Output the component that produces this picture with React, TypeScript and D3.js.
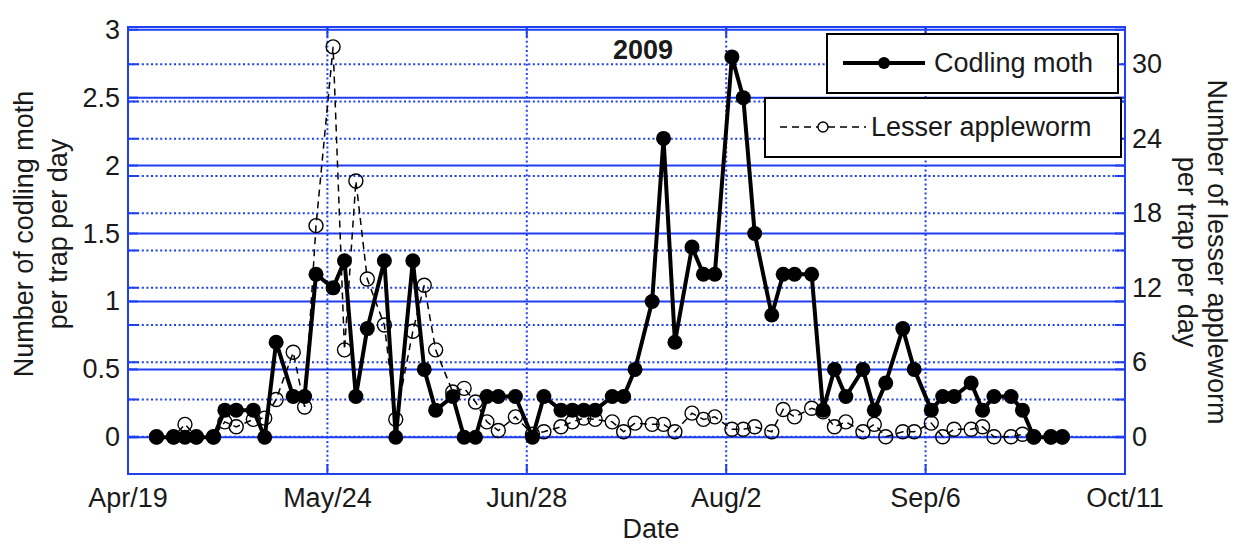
import React, { useEffect, useRef } from "react";
import * as d3 from "d3";

// trap check dates, 2009
const trapDates = [
  "4/24", "4/27", "4/29", "5/1", "5/4", "5/6", "5/8", "5/11", "5/13", "5/15",
  "5/18", "5/20", "5/22", "5/25", "5/27", "5/29", "5/31", "6/3", "6/5", "6/8",
  "6/10", "6/12", "6/15", "6/17", "6/19", "6/21", "6/23", "6/26", "6/29", "7/1",
  "7/4", "7/6", "7/8", "7/10", "7/13", "7/15", "7/17", "7/20", "7/22", "7/24",
  "7/27", "7/29", "7/31", "8/3", "8/5", "8/7", "8/10", "8/12", "8/14", "8/17",
  "8/19", "8/21", "8/23", "8/26", "8/28", "8/30", "9/2", "9/4", "9/7", "9/9",
  "9/11", "9/14", "9/16", "9/18", "9/21", "9/23", "9/25", "9/28", "9/30"
];

// left axis
const codlingMoth = [
  0, 0, 0, 0, 0, 0.2, 0.2, 0.2, 0, 0.7,
  0.3, 0.3, 1.2, 1.1, 1.3, 0.3, 0.8, 1.3, 0, 1.3,
  0.5, 0.2, 0.3, 0, 0, 0.3, 0.3, 0.3, 0, 0.3,
  0.2, 0.2, 0.2, 0.2, 0.3, 0.3, 0.5, 1.0, 2.2, 0.7,
  1.4, 1.2, 1.2, 2.8, 2.5, 1.5, 0.9, 1.2, 1.2, 1.2,
  0.2, 0.5, 0.3, 0.5, 0.2, 0.4, 0.8, 0.5, 0.2, 0.3,
  0.3, 0.4, 0.2, 0.3, 0.3, 0.2, 0, 0, 0
];

// right axis
const lesserAppleworm = [
  0, 0, 1.0, 0, 0, 1.2, 0.8, 1.4, 1.5, 3.0,
  6.8, 2.4, 17, 31.4, 7, 20.6, 12.7, 9, 1.4, 8.5,
  12.2, 7, 3.6, 3.9, 2.8, 1.2, 0.5, 1.6, 0.2, 0.4,
  0.8, 1.2, 1.5, 1.4, 1.2, 0.4, 1.1, 1.0, 1.0, 0.4,
  1.9, 1.4, 1.6, 0.6, 0.6, 0.8, 0.4, 2.2, 1.6, 2.3,
  2.0, 0.8, 1.2, 0.4, 1.0, 0, 0.4, 0.4, 1.1, 0,
  0.6, 0.6, 0.8, 0, 0, 0.2, 0, 0, 0
];

const dateTicks = ["4/19", "5/24", "6/28", "8/2", "9/6", "10/11"];
const leftTicks = [0, 0.5, 1, 1.5, 2, 2.5, 3];
const rightTicks = [0, 6, 12, 18, 24, 30];

const W = 1236, H = 545;
const left = 128, right = 1125, top = 27, bottom = 474;
const BLUE = "#1f3ff2";
const FONT = "'Liberation Sans', Arial, sans-serif";

const parse = d3.utcParse("%m/%d/%Y");
const toDate = (s: string) => parse(s + "/2009") as Date;

function App() {
  const ref = useRef<SVGSVGElement>(null);

  useEffect(() => {
    const svg = d3.select(ref.current);
    svg.selectAll("*").remove();

    const x = d3
      .scaleUtc()
      .domain([toDate(dateTicks[0]), toDate(dateTicks[dateTicks.length - 1])])
      .range([left, right]);
    const yL = d3.scaleLinear().domain([-0.27, 3.02]).range([bottom, top]);
    const yR = d3.scaleLinear().domain([-3, 33]).range([bottom, top]);
    const rightGrid = d3.range(0, 31, 3);
    const fmt = d3.utcFormat("%b/%-d");

    const g = svg.append("g");

    // grid: left axis solid, right axis dotted, dates dotted
    g.selectAll(".gl")
      .data(leftTicks)
      .join("line")
      .attr("x1", left).attr("x2", right)
      .attr("y1", d => yL(d)).attr("y2", d => yL(d))
      .attr("stroke", BLUE).attr("stroke-width", 2);
    g.selectAll(".gr")
      .data(rightGrid)
      .join("line")
      .attr("x1", left).attr("x2", right)
      .attr("y1", d => yR(d)).attr("y2", d => yR(d))
      .attr("stroke", BLUE).attr("stroke-width", 2)
      .attr("stroke-dasharray", "2,2.6");
    g.selectAll(".gx")
      .data(dateTicks.slice(1, -1))
      .join("line")
      .attr("x1", d => x(toDate(d))).attr("x2", d => x(toDate(d)))
      .attr("y1", top).attr("y2", bottom)
      .attr("stroke", BLUE).attr("stroke-width", 2)
      .attr("stroke-dasharray", "2,2.6");

    // inward ticks
    const tl = 10;
    const ticks = g.append("g").attr("stroke", BLUE).attr("stroke-width", 2);
    dateTicks.forEach(d => {
      const xx = x(toDate(d));
      ticks.append("line").attr("x1", xx).attr("x2", xx).attr("y1", bottom).attr("y2", bottom - tl);
      ticks.append("line").attr("x1", xx).attr("x2", xx).attr("y1", top).attr("y2", top + tl);
    });
    leftTicks.forEach(v => {
      ticks.append("line").attr("x1", left).attr("x2", left + tl).attr("y1", yL(v)).attr("y2", yL(v));
      ticks.append("line").attr("x1", right).attr("x2", right - tl).attr("y1", yL(v)).attr("y2", yL(v));
    });
    rightGrid.forEach(v => {
      ticks.append("line").attr("x1", left).attr("x2", left + tl).attr("y1", yR(v)).attr("y2", yR(v));
      ticks.append("line").attr("x1", right).attr("x2", right - tl).attr("y1", yR(v)).attr("y2", yR(v));
    });

    g.append("rect")
      .attr("x", left).attr("y", top)
      .attr("width", right - left).attr("height", bottom - top)
      .attr("fill", "none").attr("stroke", BLUE).attr("stroke-width", 2);

    // codling moth
    const cm = trapDates.map((d, i) => [x(toDate(d)), yL(codlingMoth[i])] as [number, number]);
    g.append("path")
      .attr("d", d3.line()(cm))
      .attr("fill", "none").attr("stroke", "#000")
      .attr("stroke-width", 4).attr("stroke-linejoin", "round");
    g.selectAll(".cm")
      .data(cm)
      .join("circle")
      .attr("cx", d => d[0]).attr("cy", d => d[1]).attr("r", 7.5)
      .attr("fill", "#000");

    // lesser appleworm
    const la = trapDates.map((d, i) => [x(toDate(d)), yR(lesserAppleworm[i])] as [number, number]);
    g.append("path")
      .attr("d", d3.line()(la))
      .attr("fill", "none").attr("stroke", "#000")
      .attr("stroke-width", 1.5).attr("stroke-dasharray", "7,5");
    g.selectAll(".la")
      .data(la)
      .join("circle")
      .attr("cx", d => d[0]).attr("cy", d => d[1]).attr("r", 7)
      .attr("fill", "none").attr("stroke", "#000").attr("stroke-width", 1.4);

    // tick labels
    const txt = svg.append("g").attr("font-family", FONT).attr("font-size", 27).attr("fill", "#1a1a1a");
    txt.selectAll(".tl")
      .data(leftTicks)
      .join("text")
      .attr("x", left - 8).attr("y", d => yL(d))
      .attr("text-anchor", "end").attr("dominant-baseline", "central")
      .text(d => String(d));
    txt.selectAll(".tr")
      .data(rightTicks)
      .join("text")
      .attr("x", right + 7).attr("y", d => yR(d))
      .attr("dominant-baseline", "central")
      .text(d => String(d));
    txt.selectAll(".tx")
      .data(dateTicks)
      .join("text")
      .attr("x", d => x(toDate(d))).attr("y", 498)
      .attr("text-anchor", "middle").attr("dominant-baseline", "central")
      .text(d => fmt(toDate(d)));

    txt.append("text")
      .attr("x", 651).attr("y", 529)
      .attr("text-anchor", "middle").attr("dominant-baseline", "central")
      .text("Date");
    txt.append("text")
      .attr("transform", "translate(24,234) rotate(-90)")
      .attr("text-anchor", "middle").attr("dominant-baseline", "central")
      .text("Number of codling moth");
    txt.append("text")
      .attr("transform", "translate(58,234) rotate(-90)")
      .attr("text-anchor", "middle").attr("dominant-baseline", "central")
      .text("per trap per day");
    txt.append("text")
      .attr("transform", "translate(1217,252) rotate(90)")
      .attr("text-anchor", "middle").attr("dominant-baseline", "central")
      .text("Number of lesser appleworm");
    txt.append("text")
      .attr("transform", "translate(1187,252) rotate(90)")
      .attr("text-anchor", "middle").attr("dominant-baseline", "central")
      .text("per trap per day");
    txt.append("text")
      .attr("x", 643).attr("y", 50)
      .attr("text-anchor", "middle").attr("dominant-baseline", "central")
      .attr("font-weight", "bold")
      .text("2009");

    // legends
    const lg1 = svg.append("g");
    lg1.append("rect")
      .attr("x", 827).attr("y", 34).attr("width", 291).attr("height", 59)
      .attr("fill", "#fff").attr("stroke", "#000").attr("stroke-width", 2);
    lg1.append("line")
      .attr("x1", 843).attr("x2", 925).attr("y1", 63).attr("y2", 63)
      .attr("stroke", "#000").attr("stroke-width", 4);
    lg1.append("circle").attr("cx", 884).attr("cy", 63).attr("r", 6).attr("fill", "#000");
    lg1.append("text")
      .attr("x", 934).attr("y", 63)
      .attr("dominant-baseline", "central")
      .attr("font-family", FONT).attr("font-size", 27).attr("fill", "#1a1a1a")
      .text("Codling moth");

    const lg2 = svg.append("g");
    lg2.append("rect")
      .attr("x", 765).attr("y", 98).attr("width", 356).attr("height", 59)
      .attr("fill", "#fff").attr("stroke", "#000").attr("stroke-width", 2);
    lg2.append("line")
      .attr("x1", 780).attr("x2", 866).attr("y1", 127).attr("y2", 127)
      .attr("stroke", "#000").attr("stroke-width", 1.5).attr("stroke-dasharray", "7,5");
    lg2.append("circle")
      .attr("cx", 823).attr("cy", 127).attr("r", 5)
      .attr("fill", "#fff").attr("stroke", "#000").attr("stroke-width", 1.4);
    lg2.append("text")
      .attr("x", 871).attr("y", 127)
      .attr("dominant-baseline", "central")
      .attr("font-family", FONT).attr("font-size", 27).attr("fill", "#1a1a1a")
      .text("Lesser appleworm");
  }, []);

  return (
    <svg
      ref={ref}
      width={W}
      height={H}
      style={{ position: "absolute", left: 0, top: 0, background: "#fff" }}
    />
  );
}

export default App;
